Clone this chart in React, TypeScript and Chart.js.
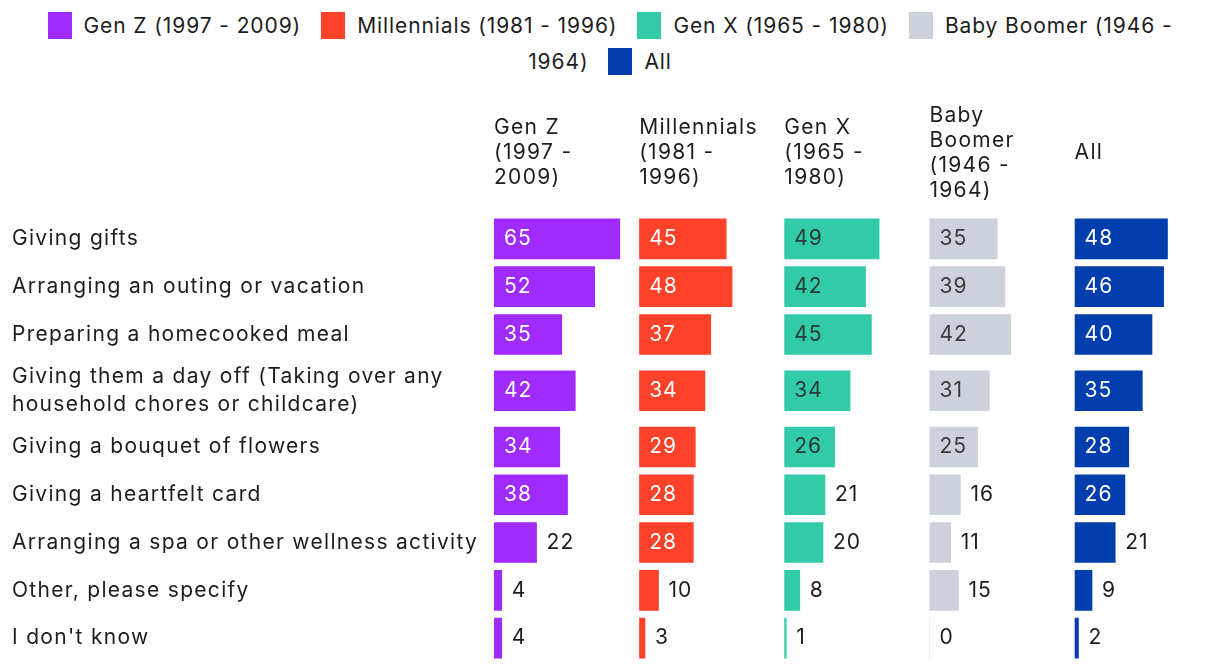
import React, { useEffect, useRef } from "react";
import { Chart, registerables } from "chart.js";

Chart.register(...registerables);

const FONT = "Inter, 'Noto Sans', sans-serif";
const TEXT = "#1d1d1d";

const categories: string[][] = [
  ["Giving gifts"],
  ["Arranging an outing or vacation"],
  ["Preparing a homecooked meal"],
  ["Giving them a day off (Taking over any", "household chores or childcare)"],
  ["Giving a bouquet of flowers"],
  ["Giving a heartfelt card"],
  ["Arranging a spa or other wellness activity"],
  ["Other, please specify"],
  ["I don't know"],
];

const seriesNames = [
  "Gen Z (1997 - 2009)",
  "Millennials (1981 - 1996)",
  "Gen X (1965 - 1980)",
  "Baby Boomer (1946 - 1964)",
  "All",
];

const headerLines: string[][] = [
  ["Gen Z", "(1997 -", "2009)"],
  ["Millennials", "(1981 -", "1996)"],
  ["Gen X", "(1965 -", "1980)"],
  ["Baby", "Boomer", "(1946 -", "1964)"],
  ["All"],
];

const genZ = [65, 52, 35, 42, 34, 38, 22, 4, 4];
const millennials = [45, 48, 37, 34, 29, 28, 28, 10, 3];
const genX = [49, 42, 45, 34, 26, 21, 20, 8, 1];
const babyBoomer = [35, 39, 42, 31, 25, 16, 11, 15, 0];
const all = [48, 46, 40, 35, 28, 26, 21, 9, 2];

const seriesValues = [genZ, millennials, genX, babyBoomer, all];
const seriesColors = ["#a02bff", "#ff4229", "#31cba8", "#cdd1dc", "#003dad"];
const insideLabelColors = ["#ffffff", "#ffffff", "#2a3a35", "#3c3c3c", "#ffffff"];
const panelMax = [75, 75, 75, 75, 71];

const ROW = 48;
const EXTRA_LINE = 17;

export default function App() {
  const canvasRef = useRef<HTMLCanvasElement | null>(null);

  useEffect(() => {
    if (!canvasRef.current) return;

    const rowHeights = categories.map((l) => ROW + (l.length - 1) * EXTRA_LINE);
    const total = rowHeights.reduce((a, b) => a + b, 0);
    const centers: number[] = [];
    let acc = 0;
    rowHeights.forEach((h) => {
      centers.push(acc + h / 2);
      acc += h;
    });

    const scales: any = {
      y: {
        type: "linear",
        display: false,
        offset: false,
        grace: 0,
        min: 0,
        max: total,
        reverse: true,
      },
    };
    seriesValues.forEach((_, i) => {
      scales["x" + i] = {
        type: "linear",
        display: false,
        position: "bottom",
        stack: "panels",
        stackWeight: panelMax[i],
        offset: false,
        min: 0,
        max: panelMax[i],
      };
    });

    const setFont = (ctx: any, size: number, spacing: number) => {
      ctx.font = `${size}px ${FONT}`;
      try {
        ctx.letterSpacing = `${spacing}px`;
      } catch (e) {}
    };

    const textPlugin = {
      id: "textPlugin",
      afterDatasetsDraw(chart: any) {
        const ctx = chart.ctx;
        const yScale = chart.scales.y;
        ctx.save();
        setFont(ctx, 21, 1.3);
        ctx.fillStyle = TEXT;
        ctx.textAlign = "left";
        ctx.textBaseline = "middle";
        const lh = 28;
        categories.forEach((lines, i) => {
          const cy = yScale.getPixelForValue(centers[i]);
          const start = cy - ((lines.length - 1) * lh) / 2;
          lines.forEach((t, k) => ctx.fillText(t, 4, start + k * lh));
        });
        const hlh = 25;
        const hcy = chart.chartArea.top - 62;
        headerLines.forEach((lines, i) => {
          const sx = chart.scales["x" + i].left;
          const start = hcy - ((lines.length - 1) * hlh) / 2;
          lines.forEach((t, k) => ctx.fillText(t, sx, start + k * hlh));
        });
        setFont(ctx, 21, 1);
        chart.data.datasets.forEach((ds: any, i: number) => {
          const meta = chart.getDatasetMeta(i);
          meta.data.forEach((el: any, j: number) => {
            const v = seriesValues[i][j];
            const txt = String(v);
            const w = ctx.measureText(txt).width;
            const barW = Math.abs(el.x - el.base);
            if (barW >= w + 18) {
              ctx.fillStyle = insideLabelColors[i];
              ctx.fillText(txt, el.base + 10, el.y);
            } else {
              ctx.fillStyle = TEXT;
              ctx.fillText(txt, el.x + 10, el.y);
            }
          });
        });
        ctx.restore();
      },
    };

    const chart = new Chart(canvasRef.current, {
      type: "bar",
      data: {
        datasets: seriesValues.map((vals, i) => ({
          label: seriesNames[i],
          data: vals.map((v, j) => ({ x: v, y: centers[j] })),
          xAxisID: "x" + i,
          yAxisID: "y",
          backgroundColor: seriesColors[i],
          borderWidth: 0,
          barThickness: 40,
          grouped: false,
        })),
      },
      options: {
        indexAxis: "y",
        animation: false,
        responsive: true,
        maintainAspectRatio: false,
        layout: { padding: { left: 486, top: 135, right: 0, bottom: 0 } },
        plugins: {
          legend: { display: false },
          tooltip: { enabled: false },
        },
        scales,
      },
      plugins: [textPlugin],
    } as any);

    return () => chart.destroy();
  }, []);

  return (
    <div style={{ fontFamily: FONT }}>
      <div
        style={{
          width: 1150,
          margin: "0 auto",
          textAlign: "center",
          fontSize: 21,
          letterSpacing: "0.9px",
          lineHeight: "36px",
          height: 72,
          color: TEXT,
        }}
      >
        {seriesNames.map((n, i) => (
          <span key={n} style={{ marginRight: 20 }}>
            <span
              style={{
                display: "inline-block",
                width: 24,
                height: 27,
                background: seriesColors[i],
                verticalAlign: "middle",
                marginRight: 12,
                position: "relative",
                top: -2,
              }}
            />
            {n}
          </span>
        ))}
      </div>
      <div style={{ position: "relative", height: 582 }}>
        <canvas ref={canvasRef} />
      </div>
    </div>
  );
}
